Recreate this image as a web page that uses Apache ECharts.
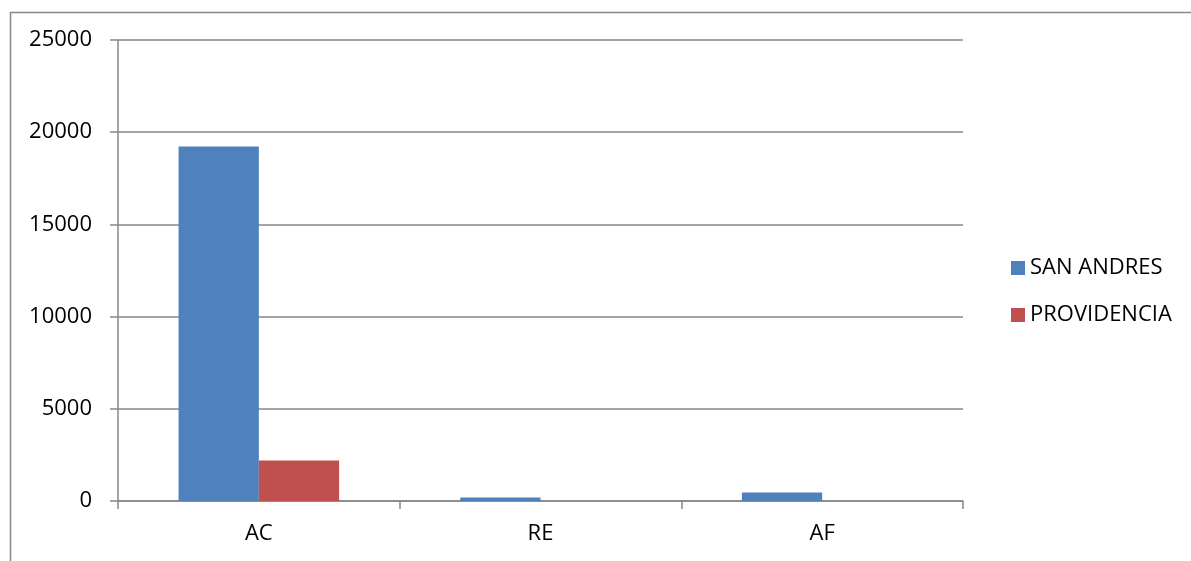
<!DOCTYPE html>
<html>
<head>
<meta charset="utf-8">
<script src="https://cdn.jsdelivr.net/npm/echarts@6/dist/echarts.min.js"></script>
<style>
  html, body { margin: 0; padding: 0; background: #fff; }
  #chart { width: 1191px; height: 561px; }
</style>
</head>
<body>
<div id="chart"></div>
<script>
// Categories and values per island
const categories = ['AC', 'RE', 'AF'];
const sanAndres = [19220, 185, 460];
const providencia = [2200, 0, 0];
const yTicks = { min: 0, max: 25000, step: 5000 };

const axisGray = '#878787';
const font = '"Open Sans", "Liberation Sans", sans-serif';

const chart = echarts.init(document.getElementById('chart'), null, { renderer: 'canvas' });

chart.setOption({
  animation: false,
  backgroundColor: '#ffffff',
  graphic: [{
    type: 'rect',
    left: 8, top: 10,
    shape: { x: 0.5, y: 0.5, width: 1300, height: 700 },
    style: { fill: 'none', stroke: axisGray, lineWidth: 1.5 },
    silent: true
  }],
  grid: { left: 118, right: 228, top: 40, bottom: 60, containLabel: false },
  legend: {
    orient: 'vertical',
    left: 1006,
    top: 252,
    itemWidth: 14,
    itemHeight: 14,
    itemGap: 25,
    icon: 'rect',
    textStyle: { fontFamily: font, fontSize: 22, color: '#000' },
    data: ['SAN ANDRES', 'PROVIDENCIA']
  },
  xAxis: {
    type: 'category',
    data: categories,
    axisLine: { lineStyle: { color: axisGray, width: 1.5 } },
    axisTick: { show: true, length: 8, lineStyle: { color: axisGray, width: 1.5 } },
    axisLabel: { fontFamily: font, fontSize: 22, color: '#000', margin: 22 }
  },
  yAxis: {
    type: 'value',
    min: yTicks.min,
    max: yTicks.max,
    interval: yTicks.step,
    axisLine: { show: true, lineStyle: { color: axisGray, width: 1.5 } },
    axisTick: { show: true, length: 8, lineStyle: { color: axisGray, width: 1.5 } },
    axisLabel: { fontFamily: font, fontSize: 22, color: '#000', margin: 26, formatter: v => String(v) },
    splitLine: { show: true, lineStyle: { color: axisGray, width: 1.5 } }
  },
  series: [
    {
      name: 'SAN ANDRES',
      type: 'bar',
      data: sanAndres,
      barGap: '0%',
      barCategoryGap: '43%',
      itemStyle: { color: '#4F81BD' }
    },
    {
      name: 'PROVIDENCIA',
      type: 'bar',
      data: providencia,
      itemStyle: { color: '#C0504D' }
    }
  ]
});
</script>
</body>
</html>
